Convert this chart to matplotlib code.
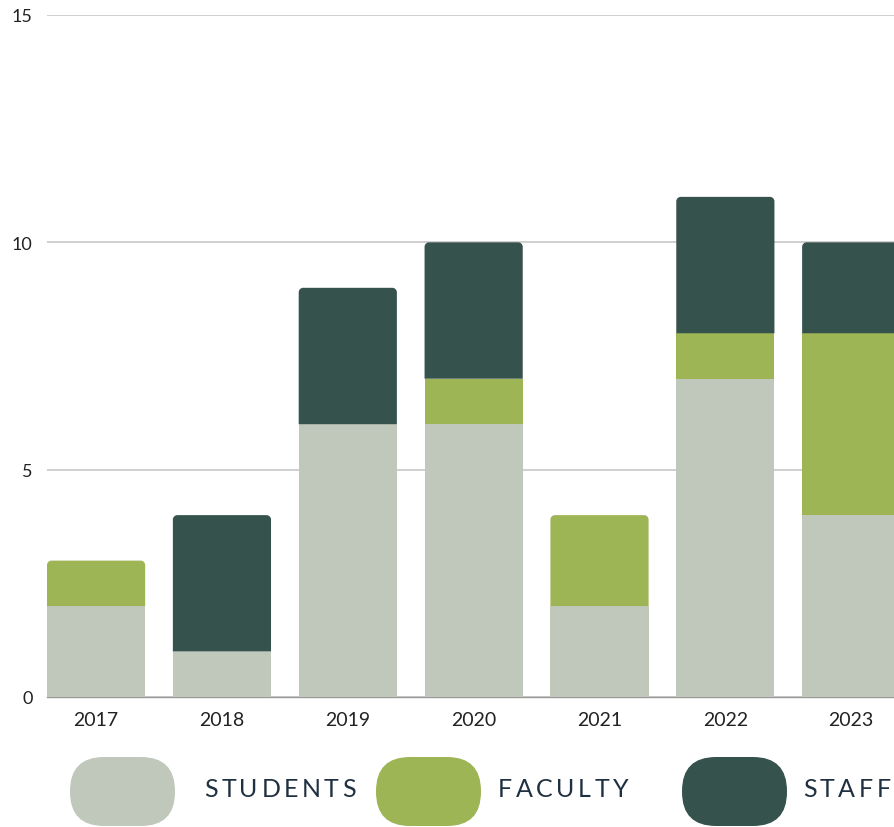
import matplotlib.pyplot as plt
from matplotlib.patches import FancyBboxPatch, PathPatch
from matplotlib.path import Path

years = ['2017', '2018', '2019', '2020', '2021', '2022', '2023']
students = [2, 1, 6, 6, 2, 7, 4]
faculty = [1, 0, 0, 1, 2, 1, 4]
staff = [0, 3, 3, 3, 0, 3, 2]
series_names = ['STUDENTS', 'FACULTY', 'STAFF']
colors = ['#c0c8bc', '#9eb556', '#36524d']
yticks = [0, 5, 10, 15]

plt.rcParams['font.family'] = ['Lato', 'DejaVu Sans']

fig = plt.figure(figsize=(8.94, 8.28), dpi=100)
ax = fig.add_axes([47 / 894, 130 / 828, 847 / 894, 682 / 828])

W = 0.78
xs = list(range(len(years)))
# px per data unit, for the rounded tops
px_x = 125.8
px_y = 45.5
rx = 4.5 / px_x
ry = 4.5 / px_y
K = 0.5523


def top_rounded(x0, y0, w, h, color):
    x1, y1 = x0 + w, y0 + h
    verts = [(x0, y0), (x0, y1 - ry),
             (x0, y1 - ry + K * ry), (x0 + rx - K * rx, y1), (x0 + rx, y1),
             (x1 - rx, y1),
             (x1 - rx + K * rx, y1), (x1, y1 - ry + K * ry), (x1, y1 - ry),
             (x1, y0), (x0, y0)]
    codes = [Path.MOVETO, Path.LINETO,
             Path.CURVE4, Path.CURVE4, Path.CURVE4,
             Path.LINETO,
             Path.CURVE4, Path.CURVE4, Path.CURVE4,
             Path.LINETO, Path.CLOSEPOLY]
    ax.add_patch(PathPatch(Path(verts, codes), facecolor=color,
                           edgecolor='none', zorder=3))


series = [students, faculty, staff]
for i, x in enumerate(xs):
    bottom = 0
    top_k = max(k for k in range(3) if series[k][i] > 0)
    for k in range(3):
        h = series[k][i]
        if h == 0:
            continue
        if k == top_k:
            top_rounded(x - W / 2, bottom, W, h, colors[k])
        else:
            ax.bar(x, h, W, bottom=bottom, color=colors[k], linewidth=0, zorder=3)
        bottom += h

ax.set_xlim(-0.39, 6.34)
ax.set_ylim(0, 15)
ax.set_yticks(yticks)
ax.set_xticks(xs)
ax.set_xticklabels(years)
ax.tick_params(axis='both', length=0, colors='#222222')
ax.tick_params(axis='y', labelsize=13, pad=10.5)
ax.tick_params(axis='x', labelsize=14, pad=10)
ax.grid(axis='y', color='#cccccc', linewidth=1.3, zorder=0)
for s in ['top', 'right', 'left']:
    ax.spines[s].set_visible(False)
ax.spines['bottom'].set_color('#999999')
ax.spines['bottom'].set_linewidth(1)

# legend: pills + letter-spaced labels
renderer = fig.canvas.get_renderer()
pill_x = [70, 376, 682]
text_x = [204, 498, 803]
tracking = 3.5  # extra px between letters
for k in range(3):
    pill = FancyBboxPatch((pill_x[k] / 894, 1 / 828), 105 / 894, 69 / 828,
                          boxstyle='round,pad=0,rounding_size=%f' % (34 / 894),
                          mutation_aspect=894 / 828,
                          transform=fig.transFigure, facecolor=colors[k],
                          edgecolor='none')
    fig.patches.append(pill)
    cx = text_x[k]
    for ch in series_names[k]:
        t = fig.text(cx / 894, 38 / 828, ch, fontsize=18, color='#1f3040',
                     va='center', ha='left')
        cx += t.get_window_extent(renderer).width + tracking

fig.savefig('out.png', dpi=100)
